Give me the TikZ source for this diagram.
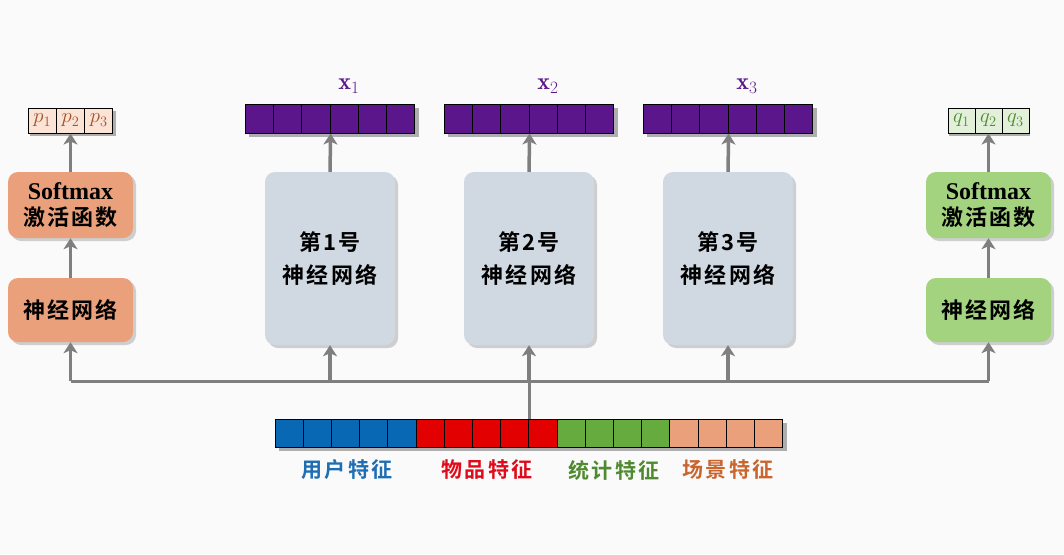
\documentclass[tikz,border=0pt]{standalone}
\usepackage{fontspec}
\newfontfamily\cjk{Noto Sans CJK SC Bold}[LetterSpace=10]
\newfontfamily\serifL{Liberation Serif Bold}
\usetikzlibrary{arrows.meta,shadows}
\definecolor{salmon}{HTML}{E9A07B}
\definecolor{lgreen}{HTML}{A3D37E}
\definecolor{gbox}{HTML}{D0D8E2}
\definecolor{purp}{HTML}{5C168C}
\definecolor{fblue}{HTML}{0868B4}
\definecolor{fred}{HTML}{E20000}
\definecolor{fgreen}{HTML}{66AB3D}
\definecolor{lblue}{HTML}{1E6EB4}
\definecolor{lred}{HTML}{DF0A1A}
\definecolor{lgrn}{HTML}{4F8A30}
\definecolor{lorange}{HTML}{C9652E}
\definecolor{pfill}{HTML}{FBE3D6}
\definecolor{qfill}{HTML}{E2F0D9}
\definecolor{ptext}{HTML}{A0522D}
\definecolor{arrgray}{HTML}{7F7F7F}
\tikzset{
  sh/.style={drop shadow={shadow xshift=3pt,shadow yshift=-3pt,fill=black!45,opacity=.4}},
  rbox/.style={rounded corners=10pt, minimum width=125pt, inner sep=0pt, align=center, sh, font=\fontsize{22}{27}\selectfont},
  nbox/.style={rbox, minimum width=130pt, minimum height=173pt, fill=gbox},
  cell/.style={draw=black, line width=1pt, inner sep=0pt, minimum height=28pt, minimum width=28.2pt},
  pcell/.style={draw=black, line width=1pt, inner sep=0pt, minimum height=25pt, minimum width=28.3pt, font=\fontsize{21}{23}\selectfont},
  arr/.style={draw=arrgray, line width=3.5pt, -{Stealth[length=11pt,width=14pt,inset=3pt]}},
  bus/.style={draw=arrgray, line width=3pt},
  flab/.style={font=\cjk\fontsize{21}{24}\selectfont},
}
\begin{document}
\begin{tikzpicture}[x=1pt,y=-1pt]
\fill[white!98!black] (0,0) rectangle (1064,554);
\useasboundingbox (0,0) rectangle (1064,554);

% left column
\node[rbox, fill=salmon, minimum height=66pt] (smL) at (70.5,205) {{\serifL\fontsize{24}{26}\selectfont Softmax}\\[-1pt]\cjk 激活函数};
\node[rbox, fill=salmon, minimum height=64pt] (nnL) at (70.5,310) {\cjk 神经网络};
\fill[black, opacity=.3] (30,111) rectangle (116,136);
\foreach \i/\t in {1/p_1,2/p_2,3/p_3}
  \node[pcell, fill=pfill, text=ptext] (p\i) at ({70.5+28.3*(\i-2)},120.5) {$\t$};

% right column
\node[rbox, fill=lgreen, minimum height=66pt] (smR) at (988.5,205) {{\serifL\fontsize{24}{26}\selectfont Softmax}\\[-1pt]\cjk 激活函数};
\node[rbox, fill=lgreen, minimum height=64pt] (nnR) at (988.5,310) {\cjk 神经网络};
\fill[black, opacity=.3] (949,111) rectangle (1030,136);
\foreach \i/\t in {1/q_1,2/q_2,3/q_3}
  \node[pcell, minimum width=27pt, fill=qfill, text=lgrn] (q\i) at ({988.5+27*(\i-2)},120.5) {$\t$};

% network boxes
\foreach \k/\cx in {1/330,2/529,3/728}{
  \node[nbox] (b\k) at (\cx,258.5) {\cjk 第\k 号\\[6pt]\cjk 神经网络};
  \fill[black, opacity=.3] (\cx-81.5,108) rectangle (\cx+88.5,137);
  \foreach \j in {1,...,6}
    \node[cell, minimum height=29pt, fill=purp] (v\k-\j) at ({\cx-84.5+14.1+28.2*(\j-1)},118.5) {};
  \node[text=purp, font=\fontsize{24}{26}\selectfont] (x\k) at (\cx+19,86) {$\mathbf{x}_{\k}$};
  \draw[arr] (b\k.north) -- (v\k-3.south east);
}

% feature vector
\fill[black, opacity=.3] (279,423) rectangle (787,451);
\foreach \j in {1,...,18}{
  \ifnum\j<6 \def\fc{fblue}\else\ifnum\j<11 \def\fc{fred}\else\ifnum\j<15 \def\fc{fgreen}\else\def\fc{salmon}\fi\fi\fi
  \node[cell, fill=\fc] (f\j) at ({275+14.1+28.2*(\j-1)},433) {};
}
\node[flab, text=lblue] (l1) at (347,470) {用户特征};
\node[flab, text=lred] (l2) at (487,470) {物品特征};
\node[flab, text=lgrn] (l3) at (614,470) {统计特征};
\node[flab, text=lorange] (l4) at (728,470) {场景特征};

% bus
\coordinate (busL) at (70.5,381);
\coordinate (busR) at (988.5,381);
\draw[bus] (f9.north east) -- (f9.north east |- busL);
\draw[bus] (busL) -- (busR);
\draw[arr] (busL) -- (nnL.south);
\draw[arr] (busR) -- (nnR.south);
\foreach \k in {1,2,3}
  \draw[arr] (b\k.south |- busL) -- (b\k.south);

% column arrows
\draw[arr] (nnL.north) -- (smL.south);
\draw[arr] (smL.north) -- (p2.south);
\draw[arr] (nnR.north) -- (smR.south);
\draw[arr] (smR.north) -- (q2.south);
\end{tikzpicture}
\end{document}
